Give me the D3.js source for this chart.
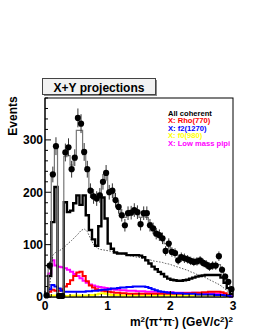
<!DOCTYPE html>
<html>
<head>
<meta charset="utf-8">
<script src="https://cdn.jsdelivr.net/npm/d3@7"></script>
<style>
  body { margin: 0; background: #fff; }
  svg { display: block; font-family: "Liberation Sans", Arial, Helvetica, sans-serif; }
</style>
</head>
<body>
<div id="chart"></div>
<script>
/*global d3*/

// m^2(pi+pi-) binning: 60 bins of 0.05 GeV^2 on [0, 3]
var binLo = 0, binHi = 3, nBins = 60;

// measured events per bin
var dataCounts = [3, 60, 234, 288, 2, 2, 276, 286, 244, 266,
  342, 331, 277, 244, 203, 192, 188, 194, 220, 237,
  200, 203, 185, 172, 156, 137, 160, 161, 166, 162,
  139, 160, 160, 137, 131, 121, 118, 112, 88, 102,
  86, 84, 70, 76, 74, 72, 69, 67, 68, 70,
  65, 62, 58, 60, 60, 78, 52, 39, 29, 15];
var dataErrors = [2, 8, 15, 17, 1, 1, 17, 17, 16, 16,
  18, 18, 17, 16, 14, 14, 14, 14, 15, 15,
  14, 14, 14, 13, 12, 12, 13, 13, 13, 13,
  12, 13, 13, 12, 11, 11, 11, 11, 9, 10,
  9, 9, 8, 9, 9, 8, 8, 8, 8, 8,
  8, 8, 8, 8, 8, 9, 7, 6, 5, 4];

// total fit (grey)
var fitTotal = [3, 60, 232, 285, 2, 2, 268, 270, 252, 262,
  318, 318, 272, 240, 205, 192, 190, 198, 222, 232,
  205, 198, 186, 173, 160, 152, 160, 162, 163, 160,
  152, 155, 152, 142, 134, 125, 117, 110, 102, 97,
  90, 85, 80, 78, 76, 74, 72, 70, 69, 68,
  66, 64, 62, 61, 60, 62, 52, 40, 28, 14];

// all coherent (thick black)
var allCoherent = [2, 40, 143, 210, 0, 0, 181, 162, 165, 179,
  194, 176, 194, 156, 128, 110, 98, 135, 190, 150,
  102, 92, 85, 83, 83, 83, 80, 80, 80, 80,
  79, 76, 70, 64, 58, 53, 48, 44, 39, 35,
  33, 32, 31, 31, 32, 33, 35, 37, 39, 40,
  41, 42, 42, 42, 42, 42, 37, 27, 17, 6];

// incoherent part (dotted)
var incoherent = [0, 20, 80, 86, 88, 92, 97, 103, 108, 114,
  120, 127, 130, 125, 112, 100, 94, 91, 90, 89,
  88, 87, 85, 84, 82, 81, 80, 78, 77, 76,
  75, 73, 72, 71, 69, 68, 67, 66, 64, 63,
  61, 59, 57, 55, 53, 51, 48, 46, 43, 41,
  39, 36, 33, 30, 27, 24, 20, 15, 10, 4];

var rho770 = [0, 10, 14, 12, 12, 15, 20, 25, 32, 40,
  47, 48, 40, 30, 22, 18, 15, 13, 12, 11,
  10, 9, 8, 8, 7, 7, 6, 6, 6, 6,
  6, 6, 6, 6, 6, 6, 6, 6, 6, 6,
  6, 6, 6, 6, 7, 7, 7, 8, 8, 8,
  9, 9, 10, 10, 10, 10, 9, 7, 4, 1];

var f21270 = [0, 15, 23, 20, 16, 12, 10, 10, 10, 10,
  10, 10, 10, 11, 11, 12, 12, 13, 14, 14,
  15, 16, 16, 17, 18, 18, 19, 19, 20, 20,
  20, 20, 19, 17, 15, 13, 11, 10, 9, 8,
  8, 7, 7, 7, 6, 6, 6, 6, 5, 5,
  5, 5, 5, 5, 4, 4, 4, 3, 2, 1];

var f0980 = [0, 2, 3, 3, 2, 2, 2, 2, 3, 3,
  3, 3, 3, 3, 4, 4, 5, 6, 7, 6,
  5, 4, 4, 4, 3, 3, 3, 3, 3, 3,
  3, 3, 3, 3, 3, 3, 3, 3, 3, 3,
  3, 3, 3, 3, 3, 3, 3, 3, 3, 3,
  3, 3, 3, 3, 3, 3, 2, 2, 1, 0];

var lowMassPipi = [5, 45, 70, 60, 58, 57, 55, 52, 48, 44,
  40, 36, 31, 27, 24, 22, 20, 19, 18, 17,
  16, 15, 14, 14, 13, 13, 12, 12, 12, 11,
  11, 11, 10, 10, 10, 10, 9, 9, 9, 9,
  9, 8, 8, 8, 8, 8, 8, 8, 8, 7,
  7, 7, 7, 7, 6, 6, 5, 4, 3, 1];

var xTickValues = [0, 1, 2, 3];
var yTickValues = [0, 100, 200, 300];

var legendLabels = ["All coherent", "X: Rho(770)", "X: f2(1270)", "X: f0(980)", "X: Low mass pipi"];
var legendColors = ["#000000", "#ff0000", "#0000ff", "#ffff00", "#ff00ff"];

(function draw() {
  "use strict";
  var W = 257, H = 332;
  var left = 45, right = 233, top = 98, bottom = 297;
  var bw = (binHi - binLo) / nBins;

  var svg = d3.select("#chart").append("svg")
    .attr("width", W).attr("height", H);

  var x = d3.scaleLinear().domain([binLo, binHi]).range([left, right]);
  var y = d3.scaleLinear().domain([0, 380]).range([bottom, top]);

  // step histogram outline from bin contents
  function stepPath(vals) {
    var pts = vals.map(function (v, i) { return [binLo + i * bw, v]; });
    pts.push([binHi, vals[vals.length - 1]]);
    return d3.line()
      .x(function (d) { return x(d[0]); })
      .y(function (d) { return y(d[1]); })
      .curve(d3.curveStepAfter)(pts);
  }

  function center(i) { return binLo + (i + 0.5) * bw; }

  // title box
  svg.append("rect").attr("x", 44).attr("y", 80).attr("width", 113).attr("height", 16)
    .attr("fill", "#888");
  svg.append("rect").attr("x", 42.5).attr("y", 78.5).attr("width", 113).attr("height", 16)
    .attr("fill", "#f2f2f2").attr("stroke", "#444").attr("stroke-width", 1);
  svg.append("text").attr("x", 99).attr("y", 91.5)
    .attr("text-anchor", "middle").attr("font-size", 12).attr("font-weight", "bold")
    .text("X+Y projections");

  // frame
  svg.append("rect").attr("x", left).attr("y", top)
    .attr("width", right - left).attr("height", bottom - top)
    .attr("fill", "#fff").attr("stroke", "#000").attr("stroke-width", 1);

  var plot = svg.append("g");

  // component histograms
  var comps = [
    {v: f0980, c: "#ffff00"},
    {v: lowMassPipi, c: "#ff00ff"},
    {v: rho770, c: "#ff0000"},
    {v: f21270, c: "#0000ff"}
  ];
  comps.forEach(function (cp) {
    plot.append("path").attr("d", stepPath(cp.v))
      .attr("fill", "none").attr("stroke", cp.c).attr("stroke-width", 2);
  });

  // incoherent, dotted
  plot.append("path")
    .attr("d", d3.line()
      .x(function (d, i) { return x(center(i)); })
      .y(function (d) { return y(d); })(incoherent))
    .attr("fill", "none").attr("stroke", "#555").attr("stroke-width", 1)
    .attr("stroke-dasharray", "1.5,1.5");

  plot.append("path").attr("d", stepPath(allCoherent))
    .attr("fill", "none").attr("stroke", "#000").attr("stroke-width", 2.4);

  plot.append("path").attr("d", stepPath(fitTotal))
    .attr("fill", "none").attr("stroke", "#777").attr("stroke-width", 1.2);

  // data points with errors
  var pts = plot.selectAll("g.pt").data(dataCounts).enter().append("g").attr("class", "pt");
  pts.append("line")
    .attr("x1", function (d, i) { return x(center(i)); })
    .attr("x2", function (d, i) { return x(center(i)); })
    .attr("y1", function (d, i) { return y(d - dataErrors[i]); })
    .attr("y2", function (d, i) { return y(d + dataErrors[i]); })
    .attr("stroke", "#333").attr("stroke-width", 1);
  pts.append("circle")
    .attr("cx", function (d, i) { return x(center(i)); })
    .attr("cy", function (d) { return y(d); })
    .attr("r", 3.1).attr("fill", "#000");

  // axes (ROOT style: ticks pointing in)
  var yMinor = d3.range(0, 381, 20);
  svg.selectAll("line.ym").data(yMinor).enter().append("line")
    .attr("x1", left).attr("x2", function (d) { return left + (d % 100 === 0 ? 6 : 3); })
    .attr("y1", function (d) { return y(d); }).attr("y2", function (d) { return y(d); })
    .attr("stroke", "#000").attr("stroke-width", 1);
  var xMinor = d3.range(0, 31).map(function (k) { return k / 10; });
  svg.selectAll("line.xm").data(xMinor).enter().append("line")
    .attr("x1", function (d) { return x(d); }).attr("x2", function (d) { return x(d); })
    .attr("y1", bottom)
    .attr("y2", function (d, k) { return bottom - (k % 10 === 0 ? 6 : (k % 5 === 0 ? 4.5 : 3)); })
    .attr("stroke", "#000").attr("stroke-width", 1);

  svg.append("line").attr("x1", left).attr("x2", left).attr("y1", top).attr("y2", bottom)
    .attr("stroke", "#000");
  svg.append("line").attr("x1", left).attr("x2", right).attr("y1", bottom).attr("y2", bottom)
    .attr("stroke", "#000");

  svg.selectAll("text.yl").data(yTickValues).enter().append("text")
    .attr("x", 43).attr("y", function (d) { return y(d) + 4.3; })
    .attr("text-anchor", "end").attr("font-size", 12).attr("font-weight", "bold")
    .text(function (d) { return d; });
  svg.selectAll("text.xl").data(xTickValues).enter().append("text")
    .attr("x", function (d) { return x(d); }).attr("y", 310)
    .attr("text-anchor", "middle").attr("font-size", 12).attr("font-weight", "bold")
    .text(function (d) { return d; });

  // axis titles
  svg.append("text").attr("transform", "translate(17,116) rotate(-90)")
    .attr("text-anchor", "middle").attr("font-size", 12).attr("font-weight", "bold")
    .text("Events");

  var xt = svg.append("text").attr("x", right).attr("y", 326)
    .attr("text-anchor", "end").attr("font-size", 12).attr("font-weight", "bold");
  xt.append("tspan").text("m");
  xt.append("tspan").attr("font-size", 8).attr("dy", -4).text("2");
  xt.append("tspan").attr("dy", 4).text("(\u03c0");
  xt.append("tspan").attr("font-size", 8).attr("dy", -4).text("+");
  xt.append("tspan").attr("dy", 4).text("\u03c0");
  xt.append("tspan").attr("font-size", 8).attr("dy", -4).text("-");
  xt.append("tspan").attr("dy", 4).text(") (GeV/c");
  xt.append("tspan").attr("font-size", 8).attr("dy", -4).text("2");
  xt.append("tspan").attr("dy", 4).text(")");
  xt.append("tspan").attr("font-size", 8).attr("dy", -4).text("2");

  // legend
  svg.selectAll("text.lg").data(legendLabels).enter().append("text")
    .attr("x", 168).attr("y", function (d, i) { return 115.5 + i * 7.5; })
    .attr("font-size", 7.6).attr("font-weight", "bold")
    .attr("fill", function (d, i) { return legendColors[i]; })
    .text(function (d) { return d; });
}());
</script>
</body>
</html>
